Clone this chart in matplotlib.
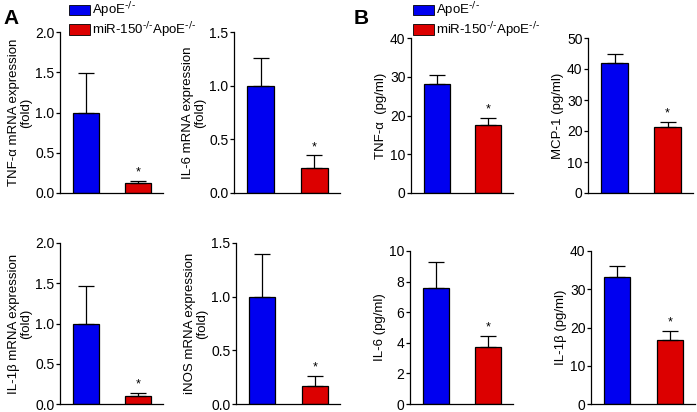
import matplotlib
matplotlib.use("Agg")
import matplotlib.pyplot as plt
from matplotlib.patches import Patch

plt.rcParams['font.family'] = ['Liberation Sans', 'DejaVu Sans']
plt.rcParams['mathtext.default'] = 'regular'

W, H = 697, 412

groups = [r'ApoE$^{\text{-/-}}$', r'miR-150$^{\text{-/-}}$ApoE$^{\text{-/-}}$']
colors = ['#0000f0', '#dc0000']

titles = ['TNF-α mRNA expression\n(fold)', 'IL-6 mRNA expression\n(fold)',
          'TNF-α  (pg/ml)', 'MCP-1 (pg/ml)',
          'IL-1β mRNA expression\n(fold)', 'iNOS mRNA expression\n(fold)',
          'IL-6 (pg/ml)', 'IL-1β (pg/ml)']
means = [[1.0, 0.13], [1.0, 0.23], [28.2, 17.6], [41.8, 21.3],
         [1.0, 0.10], [1.0, 0.17], [7.6, 3.72], [33.2, 16.8]]
errs = [[0.49, 0.02], [0.26, 0.12], [2.3, 1.7], [3.0, 1.7],
        [0.46, 0.04], [0.40, 0.09], [1.65, 0.73], [2.8, 2.4]]
ymax = [2.0, 1.5, 40, 50, 2.0, 1.5, 10, 40]
ystep = [0.5, 0.5, 10, 10, 0.5, 0.5, 2, 10]

# axes boxes in pixels: left, top, right, bottom
boxes = [(60, 32, 163, 193), (234, 32, 340, 193), (411, 38, 513, 193), (588, 38, 693, 193),
         (60, 243, 163, 404), (236, 243, 340, 404), (410, 251, 513, 404), (591, 251, 695, 404)]

fig = plt.figure(figsize=(W / 100, H / 100), dpi=100)

for i in range(8):
    l, t, r, b = boxes[i]
    ax = fig.add_axes([l / W, 1 - b / H, (r - l) / W, (b - t) / H])
    ax.bar([0, 1], means[i], width=0.5, color=colors, edgecolor='black', linewidth=0.9)
    ax.errorbar([0, 1], means[i], yerr=[[0, 0], errs[i]], fmt='none', ecolor='black',
                elinewidth=0.9, capsize=6, capthick=0.9)
    top = means[i][1] + errs[i][1]
    ax.text(1, top + ymax[i] * 0.015, '*', ha='center', va='bottom', fontsize=9)
    ax.set_xlim(-0.5, 1.48)
    ax.set_ylim(0, ymax[i])
    ticks = [k * ystep[i] for k in range(int(round(ymax[i] / ystep[i])) + 1)]
    ax.set_yticks(ticks)
    if ystep[i] < 1:
        ax.set_yticklabels(['%.1f' % v for v in ticks])
    ax.set_xticks([])
    ax.spines['top'].set_visible(False)
    ax.spines['right'].set_visible(False)
    ax.spines['left'].set_linewidth(0.9)
    ax.spines['bottom'].set_linewidth(0.9)
    ax.tick_params(axis='y', labelsize=10, length=3, width=0.9, pad=1)
    ax.set_ylabel(titles[i], fontsize=9.5, labelpad=2, linespacing=1.05)

handles = [Patch(facecolor=c, edgecolor='black', linewidth=0.6) for c in colors]
for x0 in (66 / W, 410 / W):
    fig.legend(handles, groups, loc='upper left', bbox_to_anchor=(x0, 1.005), frameon=False,
               fontsize=9.5, handlelength=1.6, handleheight=0.85, handletextpad=0.15,
               labelspacing=0.0, borderaxespad=0.1, borderpad=0.1)

fig.text(3 / W, 1 - 24 / H, 'A', fontsize=15, fontweight='bold', va='baseline')
fig.text(354 / W, 1 - 24 / H, 'B', fontsize=15, fontweight='bold', va='baseline')

fig.savefig('out.png', dpi=100)
